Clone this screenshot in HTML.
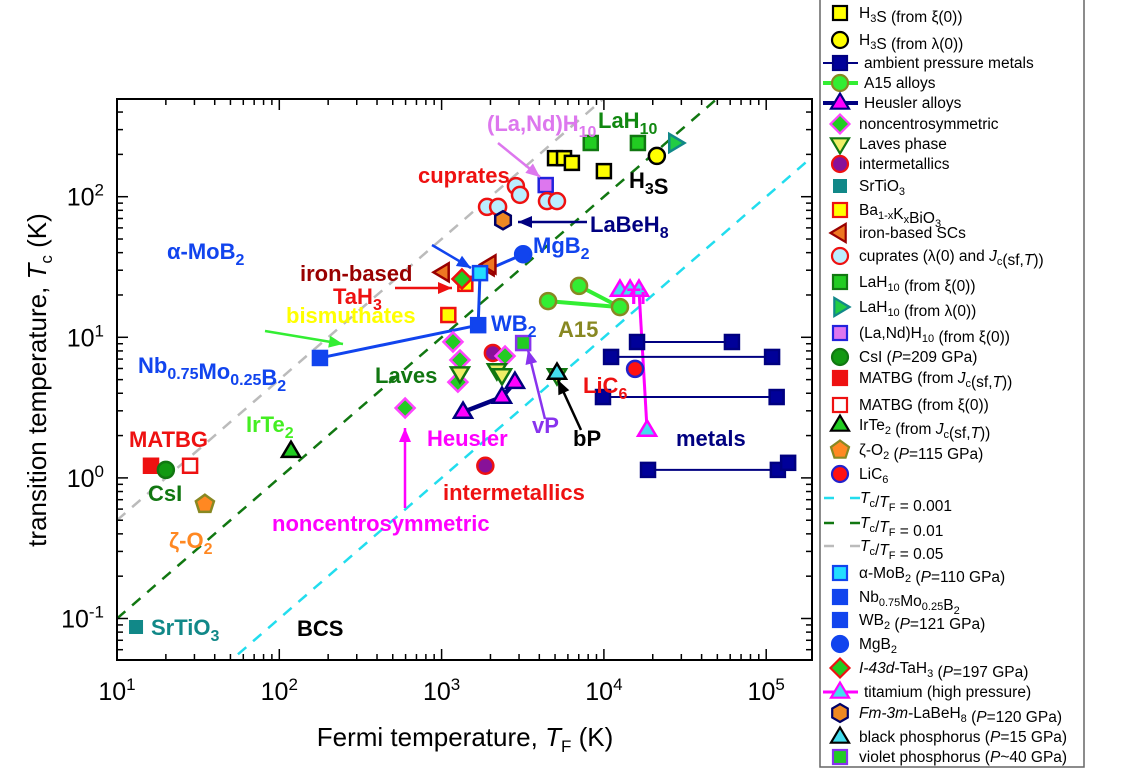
<!DOCTYPE html>
<html><head><meta charset="utf-8">
<style>
html,body{margin:0;padding:0;background:#fff;}
svg{display:block;font-family:"Liberation Sans",Arial,sans-serif;}
.lbl{font-weight:bold;font-size:22px;}
.lg{font-size:15.5px;fill:#000;}
</style></head>
<body>
<svg id="chart" width="1144" height="771" viewBox="0 0 1144 771">
<defs><clipPath id="pc"><rect x="117" y="99" width="695" height="561"/></clipPath></defs>
<g id="refs" clip-path="url(#pc)"></g>
<g id="series"></g>
<g id="annot"></g>
<rect x="117" y="99" width="695" height="561" fill="none" stroke="#000" stroke-width="2"/>
<g id="ticks"></g>
<text x="465" y="746" font-size="26" text-anchor="middle">Fermi temperature, <tspan font-style="italic">T</tspan><tspan font-size="17" dy="6">F</tspan><tspan dy="-6"> (K)</tspan></text>
<text transform="translate(46,380) rotate(-90)" font-size="26" text-anchor="middle">transition temperature, <tspan font-style="italic">T</tspan><tspan font-size="17" dy="6">c</tspan><tspan dy="-6"> (K)</tspan></text>
<rect x="820" y="-1" width="264" height="768" fill="#fff" stroke="#666" stroke-width="1.5"/>
<g id="legend"></g>
</svg>
<script>
// ---- data (T_F in K, T_c in K) ----
const h3sXiTF=[5000,5680,6350,10000]; const h3sXiTc=[188,188,174,152];
const h3sLamTF=[21200]; const h3sLamTc=[195];
const lah10XiTF=[8300,16200]; const lah10XiTc=[241,241];
const lah10LamTF=[27400]; const lah10LamTc=[241];
const lanTF=[4380]; const lanTc=[121];
const cupTF=[1905,2230,2870,3040,4460,5140]; const cupTc=[84.6,84.6,119,103,93,93];
const labehTF=[2390]; const labehTc=[68];
const mob2TF=[1725]; const mob2Tc=[28.6];
const mgb2TF=[3180]; const mgb2Tc=[39];
const wb2TF=[1680]; const wb2Tc=[12.2];
const nbTF=[178]; const nbTc=[7.13];
const feTF=[1020,1930,1980]; const feTc=[29,32,33];
const tah3TF=[1335]; const tah3Tc=[26];
const bkboTF=[1100,1400]; const bkboTc=[14.4,24];
const a15TF=[4530,12560,7030]; const a15Tc=[18.1,16.4,23.2];
const tiTF=[12560,14500,16450,18450]; const tiTc=[21.7,21.7,21.7,2.19];
const metalsTF=[[16000,61500],[11070,108700],[9870,116000],[18700,118000,136500]];
const metalsTc=[[9.26,9.26],[7.25,7.25],[3.76,3.76],[1.14,1.14,1.28]];
const licTF=[15560]; const licTc=[5.96];
const bpTF=[5140]; const bpTc=[5.57];
const vpTF=[3180]; const vpTc=[9.1];
const interTF=[2070,1860]; const interTc=[7.74,1.22];
const ncsTF=[1175,1297,1260,2460,596]; const ncsTc=[9.27,6.9,4.8,7.36,3.14];
const lavesTF=[1297,2190,2355,5140]; const lavesTc=[5.57,5.86,5.4,5.4];
const heusTF=[1355,2355,2830]; const heusTc=[2.94,3.76,4.8];
const irteTF=[118]; const irteTc=[1.55];
const matJTF=[16.2]; const matJTc=[1.22];
const matXTF=[28.2]; const matXTc=[1.22];
const csiTF=[20]; const csiTc=[1.14];
const o2TF=[34.8]; const o2Tc=[0.65];
const stoTF=[13.1]; const stoTc=[0.087];
const refRatios=[0.001,0.01,0.05];
const xTickLabels=["1","2","3","4","5"]; const yTickLabels=["-1","0","1","2"];

// ---- axes ----
const X0=117,XD=162.3,Y1=337.3,YD=140.6;
function X(v){return X0+XD*(Math.log10(v)-1);}
function Y(v){return Y1-YD*(Math.log10(v)-1);}
const NS="http://www.w3.org/2000/svg";
function mk(parent,tag,attrs,name){
  const el=document.createElementNS(NS,tag);
  for(const k in attrs) el.setAttribute(k,attrs[k]);
  
  
  parent.appendChild(el); return el;
}
const S=document.getElementById('series'), R=document.getElementById('refs'), T=document.getElementById('ticks'), A=document.getElementById('annot'), L=document.getElementById('legend');

const refCols=["#22ddee","#117711","#bbbbbb"];
refRatios.forEach((r,i)=>{
  mk(R,'line',{x1:X(10),y1:Y(10*r),x2:X(2e5),y2:Y(2e5*r),stroke:refCols[i],'stroke-width':2.5,'stroke-dasharray':'11,9'},'ref-line-'+r);
});

for(let d=1;d<=5;d++){
  for(let m=1;m<10;m++){
    const v=m*Math.pow(10,d); const x=X(v); if(x>812) break;
    const len=m==1?11:6;
    mk(T,'line',{x1:x,y1:660,x2:x,y2:660-len,stroke:'#000','stroke-width':1.5},'x-tick');
    mk(T,'line',{x1:x,y1:99,x2:x,y2:99+len,stroke:'#000','stroke-width':1.5},'x-tick-top');
  }
}
xTickLabels.forEach(p=>{
  const t=mk(T,'text',{x:X(Math.pow(10,+p)),y:700,'font-size':25,'text-anchor':'middle'},'x-tick-label');
  t.innerHTML='10<tspan font-size="17" dy="-10">'+p+'</tspan>';
});
for(let d=-2;d<=2;d++){
  for(let m=1;m<10;m++){
    const v=m*Math.pow(10,d); const y=Y(v); if(y>660||y<99) continue;
    const len=m==1?11:6;
    mk(T,'line',{x1:117,y1:y,x2:117+len,y2:y,stroke:'#000','stroke-width':1.5},'y-tick');
    mk(T,'line',{x1:812,y1:y,x2:812-len,y2:y,stroke:'#000','stroke-width':1.5},'y-tick-right');
  }
}
yTickLabels.forEach(p=>{
  const t=mk(T,'text',{x:104,y:Y(Math.pow(10,+p))+9,'font-size':25,'text-anchor':'end'},'y-tick-label');
  t.innerHTML='10<tspan font-size="17" dy="-10">'+p+'</tspan>';
});

function marker(g,kind,x,y,fill,stroke,name,sw){
  sw=sw||2.5; const s=7;
  let el;
  if(kind=='sq') el=mk(g,'rect',{x:x-s,y:y-s,width:2*s,height:2*s,fill:fill,stroke:stroke,'stroke-width':sw},name);
  else if(kind=='ci') el=mk(g,'circle',{cx:x,cy:y,r:8,fill:fill,stroke:stroke,'stroke-width':sw},name);
  else {
    let pts;
    const r=9.5;
    if(kind=='up') pts=[[0,-r],[r*0.95,r*0.6],[-r*0.95,r*0.6]];
    else if(kind=='dn') pts=[[0,r],[r*0.95,-r*0.6],[-r*0.95,-r*0.6]];
    else if(kind=='lt') pts=[[-r,0],[r*0.6,-r*0.95],[r*0.6,r*0.95]];
    else if(kind=='rt') pts=[[r,0],[-r*0.6,-r*0.95],[-r*0.6,r*0.95]];
    else if(kind=='di') pts=[[0,-r],[r,0],[0,r],[-r,0]];
    else if(kind=='hx'){pts=[];for(let i=0;i<6;i++){const a=Math.PI/3*i+Math.PI/6;pts.push([9*Math.cos(a),9*Math.sin(a)]);}}
    else if(kind=='pe'){pts=[];for(let i=0;i<5;i++){const a=-Math.PI/2+2*Math.PI/5*i;pts.push([9.5*Math.cos(a),9.5*Math.sin(a)]);}}
    el=mk(g,'polygon',{points:pts.map(p=>(x+p[0])+','+(y+p[1])).join(' '),fill:fill,stroke:stroke,'stroke-width':sw,'stroke-linejoin':'miter'},name);
  }
  return el;
}
function scatter(tf,tc,kind,fill,stroke,name){tf.forEach((v,i)=>marker(S,kind,X(v),Y(tc[i]),fill,stroke,name));}
function line(tf,tc,col,w,name){mk(S,'polyline',{points:tf.map((v,i)=>X(v)+','+Y(tc[i])).join(' '),fill:'none',stroke:col,'stroke-width':w},name);}

line([mob2TF[0],mgb2TF[0]],[mob2Tc[0],mgb2Tc[0]],'#1144ee',3,'mob2-mgb2-line');
line([mob2TF[0],wb2TF[0]],[mob2Tc[0],wb2Tc[0]],'#1144ee',3,'mob2-wb2-line');
line([nbTF[0],wb2TF[0]],[nbTc[0],wb2Tc[0]],'#1144ee',3,'nb-wb2-line');
line([a15TF[0],a15TF[1],a15TF[2]],[a15Tc[0],a15Tc[1],a15Tc[2]],'#33ee33',4,'a15-line');
line(heusTF,heusTc,'#000080',4.5,'heusler-line');
line([tiTF[2],tiTF[3]],[tiTc[2],tiTc[3]],'#ff00ff',3,'titanium-line');
metalsTF.forEach((row,i)=>line(row,metalsTc[i],'#000080',2,'metals-line'));

scatter(h3sXiTF,h3sXiTc,'sq','#ffff00','#000','h3s-xi-point');
scatter(lah10XiTF,lah10XiTc,'sq','#22cc22','#117711','lah10-xi-point');
scatter(h3sLamTF,h3sLamTc,'ci','#ffff00','#000','h3s-lambda-point');
scatter(lah10LamTF,lah10LamTc,'rt','#22cc44','#118888','lah10-lambda-point');
scatter(lanTF,lanTc,'sq','#dd77ee','#2222dd','lanh10-point');
scatter(cupTF,cupTc,'ci','#bbeeff','#ee1111','cuprate-point');
scatter(labehTF,labehTc,'hx','#ee8822','#000066','labeh8-point');
scatter(feTF,feTc,'lt','#ee7722','#990000','iron-based-point');
scatter(bkboTF,bkboTc,'sq','#ffff00','#ee1111','bkbo-point');
scatter(tah3TF,tah3Tc,'di','#22cc22','#ee1111','tah3-point');
scatter(mob2TF,mob2Tc,'sq','#22ddff','#1144ee','mob2-point');
scatter(mgb2TF,mgb2Tc,'ci','#1144ee','#1144ee','mgb2-point');
scatter(wb2TF,wb2Tc,'sq','#1144ee','#1144ee','wb2-point');
scatter(nbTF,nbTc,'sq','#1144ee','#1144ee','nb-mo-b2-point');
scatter(a15TF,a15Tc,'ci','#33ee33','#888822','a15-point');
scatter(tiTF,tiTc,'up','#44ddee','#ff00ff','titanium-point');
metalsTF.forEach((row,i)=>scatter(row,metalsTc[i],'sq','#000099','#000080','metal-point'));
scatter(licTF,licTc,'ci','#ff1111','#2222cc','lic6-point');
scatter(vpTF,vpTc,'sq','#22cc22','#8833ee','vp-point');
scatter(interTF,interTc,'ci','#881199','#ee1111','intermetallic-point');
scatter(ncsTF,ncsTc,'di','#22cc22','#ff44ff','noncentro-point');
scatter(lavesTF,lavesTc,'dn','#eeee66','#117711','laves-point');
scatter(bpTF,bpTc,'up','#44ddee','#000','bp-point');
scatter(heusTF,heusTc,'up','#ff00ff','#000080','heusler-point');
scatter(irteTF,irteTc,'up','#22cc22','#000','irte2-point');
scatter(matJTF,matJTc,'sq','#ee1111','#ee1111','matbg-jc-point');
scatter(matXTF,matXTc,'sq','#fff','#ee1111','matbg-xi-point');
scatter(csiTF,csiTc,'ci','#119911','#117711','csi-point');
scatter(o2TF,o2Tc,'pe','#ff8822','#888822','zeta-o2-point');
scatter(stoTF,stoTc,'sq','#118888','none','srtio3-point');

function lab(x,y,col,html,name,anchor){const t=mk(A,'text',{x:x,y:y,fill:col,'class':'lbl','text-anchor':anchor||'start'},name);t.innerHTML=html;}
function arrow(x1,y1,x2,y2,col,name){
  mk(A,'line',{x1:x1,y1:y1,x2:x2,y2:y2,stroke:col,'stroke-width':2.5},name);
  const a=Math.atan2(y2-y1,x2-x1),h=14,w=6;
  const p=[[x2,y2],[x2-h*Math.cos(a)+w*Math.sin(a),y2-h*Math.sin(a)-w*Math.cos(a)],[x2-h*Math.cos(a)-w*Math.sin(a),y2-h*Math.sin(a)+w*Math.cos(a)]];
  mk(A,'polygon',{points:p.map(q=>q.join(',')).join(' '),fill:col},name+'-head');
}
const sub=(s)=>'<tspan font-size="16" dy="6">'+s+'</tspan><tspan dy="-6"></tspan>';
lab(487,131,'#dd77ee','(La,Nd)H'+sub('10'),'lanh10-label');
arrow(498,143,540,177,'#dd77ee','lanh10-arrow');
lab(598,128,'#118811','LaH'+sub('10'),'lah10-label');
lab(418,183,'#ee1111','cuprates','cuprates-label');
lab(629,188,'#000','H'+sub('3')+'S','h3s-label');
lab(590,232,'#000080','LaBeH'+sub('8'),'labeh8-label');
arrow(587,222,518,222,'#000080','labeh8-arrow');
lab(167,259,'#1144ee','α-MoB'+sub('2'),'mob2-label');
arrow(432,245,471,268,'#1144ee','mob2-arrow');
lab(533,253,'#1144ee','MgB'+sub('2'),'mgb2-label');
lab(300,281,'#990000','iron-based','iron-based-label');
lab(333,304,'#ee1111','TaH'+sub('3'),'tah3-label');
arrow(395,288,452,288,'#ee1111','tah3-arrow');
lab(286,323,'#ffff00','bismuthates','bismuthates-label');
lab(491,331,'#1144ee','WB'+sub('2'),'wb2-label');
lab(558,337,'#888822','A15','a15-label');
lab(627,304,'#ff00ff','Ti','ti-label');
arrow(265,331,343,344,'#33ee33','nb-arrow');
lab(138,373,'#1144ee','Nb'+sub('0.75')+'Mo'+sub('0.25')+'B'+sub('2'),'nb-mo-b2-label');
lab(375,383,'#117711','Laves','laves-label');
lab(583,393,'#ee1111','LiC'+sub('6'),'lic6-label');
lab(532,433,'#8833ee','vP','vp-label');
arrow(545,419,528,350,'#8833ee','vp-arrow');
lab(573,446,'#000','bP','bp-label');
arrow(581,430,558,380,'#000','bp-arrow');
lab(427,446,'#ff00ff','Heusler','heusler-label');
lab(676,446,'#000080','metals','metals-label');
lab(129,447,'#ee1111','MATBG','matbg-label');
lab(246,432,'#44ee22','IrTe'+sub('2'),'irte2-label');
lab(148,501,'#117711','CsI','csi-label');
lab(443,500,'#ee1111','intermetallics','intermetallics-label');
lab(272,531,'#ff00ff','noncentrosymmetric','noncentro-label');
arrow(405,508,405,428,'#ff00ff','noncentro-arrow');
lab(169,548,'#ff8822','ζ-O'+sub('2'),'zeta-o2-label');
lab(151,635,'#118888','SrTiO'+sub('3'),'srtio3-label');
lab(297,636,'#000','BCS','bcs-label');

const sb=(s)=>'<tspan font-size="11" dy="4">'+s+'</tspan><tspan dy="-4"></tspan>';
const it=(s)=>'<tspan font-style="italic">'+s+'</tspan>';
const legendItems=[
 [13,'sq','#ffff00','#000','H'+sb('3')+'S (from ξ(0))'],
 [40,'ci','#ffff00','#000','H'+sb('3')+'S (from λ(0))'],
 [63,'sq','#000099','#000080','ambient pressure metals','#000080',2],
 [83,'ci','#33ee33','#888822','A15 alloys','#33ee33',4],
 [103,'up','#ff00ff','#000080','Heusler alloys','#000080',4],
 [124,'di','#22cc22','#ff44ff','noncentrosymmetric'],
 [144,'dn','#eeee66','#117711','Laves phase'],
 [164,'ci','#881199','#ee1111','intermetallics'],
 [186,'sq','#118888','none','SrTiO'+sb('3')],
 [210,'sq','#ffff00','#ee1111','Ba'+sb('1-x')+'K'+sb('x')+'BiO'+sb('3')],
 [233,'lt','#ee7722','#990000','iron-based SCs'],
 [256,'ci','#bbeeff','#ee1111','cuprates (λ(0) and '+it('J')+sb('c')+'(sf,'+it('T')+'))'],
 [282,'sq','#22cc22','#117711','LaH'+sb('10')+' (from ξ(0))'],
 [307,'rt','#22cc44','#118888','LaH'+sb('10')+' (from λ(0))'],
 [333,'sq','#dd77ee','#2222dd','(La,Nd)H'+sb('10')+' (from ξ(0))'],
 [357,'ci','#119911','#117711','CsI ('+it('P')+'=209 GPa)'],
 [378,'sq','#ee1111','#ee1111','MATBG (from '+it('J')+sb('c')+'(sf,'+it('T')+'))'],
 [405,'sq','#fff','#ee1111','MATBG (from ξ(0))'],
 [425,'up','#22cc22','#000','IrTe'+sb('2')+' (from '+it('J')+sb('c')+'(sf,'+it('T')+'))'],
 [450,'pe','#ff8822','#888822','ζ-O'+sb('2')+' ('+it('P')+'=115 GPa)'],
 [474,'ci','#ff1111','#2222cc','LiC'+sb('6')],
 [498,'dash','#22ddee','',it('T')+sb('c')+'/'+it('T')+sb('F')+' = 0.001'],
 [523,'dash','#117711','',it('T')+sb('c')+'/'+it('T')+sb('F')+' = 0.01'],
 [546,'dash','#bbbbbb','',it('T')+sb('c')+'/'+it('T')+sb('F')+' = 0.05'],
 [573,'sq','#22ddff','#1144ee','α-MoB'+sb('2')+' ('+it('P')+'=110 GPa)'],
 [597,'sq','#1144ee','#1144ee','Nb'+sb('0.75')+'Mo'+sb('0.25')+'B'+sb('2')],
 [620,'sq','#1144ee','#1144ee','WB'+sb('2')+' ('+it('P')+'=121 GPa)'],
 [644,'ci','#1144ee','#1144ee','MgB'+sb('2')],
 [668,'di','#22cc22','#ee1111',it('I-43d')+'-TaH'+sb('3')+' ('+it('P')+'=197 GPa)'],
 [692,'up','#44ddee','#ff00ff','titamium (high pressure)','#ff00ff',3],
 [713,'hx','#ee8822','#000066',it('Fm-3m')+'-LaBeH'+sb('8')+' ('+it('P')+'=120 GPa)'],
 [737,'up','#44ddee','#000','black phosphorus ('+it('P')+'=15 GPa)'],
 [757,'sq','#22cc22','#8833ee','violet phosphorus ('+it('P')+'~40 GPa)']
];
legendItems.forEach(e=>{
  const y=e[0];
  if(e[1]=='dash'){
    mk(L,'line',{x1:824,y1:y,x2:868,y2:y,stroke:e[2],'stroke-width':2.5,'stroke-dasharray':'10,16'},'legend-line');
    const t=mk(L,'text',{x:860,y:y+5,'class':'lg'},'legend-entry');t.innerHTML=e[4];return;
  }
  if(e[5]) mk(L,'line',{x1:823,y1:y,x2:858,y2:y,stroke:e[5],'stroke-width':e[6]},'legend-line');
  marker(L,e[1],840,y,e[2],e[3],'legend-symbol',2.2);
  const t=mk(L,'text',{x:e[5]?864:859,y:y+5,'class':'lg'},'legend-entry');
  t.innerHTML=e[4];
});
</script>
</body></html>
